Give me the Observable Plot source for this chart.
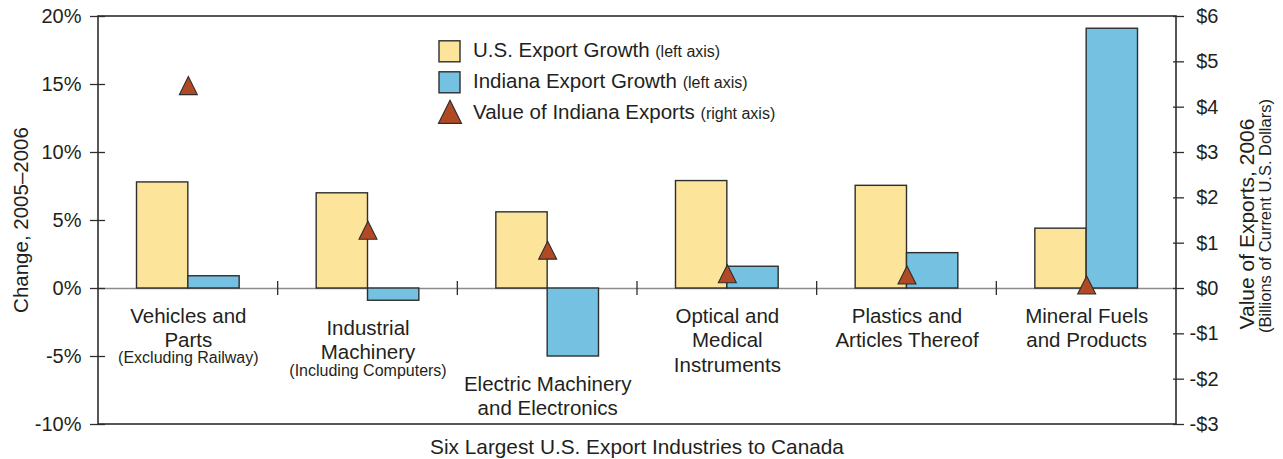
<!DOCTYPE html>
<html>
<head>
<meta charset="utf-8">
<script src="https://cdn.jsdelivr.net/npm/d3@7"></script>
<script src="https://cdn.jsdelivr.net/npm/@observablehq/plot@0.6"></script>
<style>
  html, body { margin: 0; padding: 0; background: #fff; }
  #chart svg { display: block; }
</style>
</head>
<body>
<div id="chart"></div>
<script>
// ---------- data ----------
const categories = [
  "Vehicles and Parts",
  "Industrial Machinery",
  "Electric Machinery and Electronics",
  "Optical and Medical Instruments",
  "Plastics and Articles Thereof",
  "Mineral Fuels and Products"
];
const categoryLabels = [
  "Vehicles and\nParts",
  "Industrial\nMachinery",
  "Electric Machinery\nand Electronics",
  "Optical and\nMedical\nInstruments",
  "Plastics and\nArticles Thereof",
  "Mineral Fuels\nand Products"
];
const categoryNotes = ["(Excluding Railway)", "(Including Computers)", "", "", "", ""];
const seriesNames = ["U.S. Export Growth", "Indiana Export Growth"];
const valueName = "Value of Indiana Exports";
const legendNotes = ["(left axis)", "(left axis)", "(right axis)"];
const usGrowth = [7.8, 7.0, 5.6, 7.9, 7.55, 4.4];            // % change 2005–2006
const indianaGrowth = [0.9, -0.9, -5.0, 1.6, 2.6, 19.1];     // % change 2005–2006
const indianaValue = [4.41, 1.22, 0.78, 0.26, 0.23, 0.01];   // billions of US$, 2006
const leftTicks = [-10, -5, 0, 5, 10, 15, 20];
const rightTicks = [-3, -2, -1, 0, 1, 2, 3, 4, 5, 6];
const leftTitle = "Change, 2005–2006";
const rightTitle = "Value of Exports, 2006";
const rightSubtitle = "(Billions of Current U.S. Dollars)";
const bottomTitle = "Six Largest U.S. Export Industries to Canada";

// ---------- style ----------
const FONT = "'Liberation Sans', Arial, Helvetica, sans-serif";
const INK = "#231f20";
const LINE = "#2e2e2e";
const YELLOW = "#fde49b";
const BLUE = "#74c1e1";
const RUST = "#b14a24";
const W = 1283, H = 459;
const M = {top: 16, right: 107, bottom: 35, left: 98};

// right axis ($) is mapped onto the left (%) scale
const ratio = leftTicks[leftTicks.length - 1] / rightTicks[rightTicks.length - 1];
const dollar = v => { const d = Math.round(v / ratio); return d < 0 ? "-$" + (-d) : "$" + d; };

const barRows = categories.flatMap((c, i) => [
  {cat: c, series: seriesNames[0], value: usGrowth[i]},
  {cat: c, series: seriesNames[1], value: indianaGrowth[i]}
]);
const catRows = categories.map((c, i) => ({
  cat: c,
  label: categoryLabels[i],
  note: categoryNotes[i],
  low: Math.min(0, usGrowth[i], indianaGrowth[i]),
  dollars: indianaValue[i]
}));

// triangle symbol with centroid at the data point
const triangle = {
  draw(ctx, size) {
    const r = Math.sqrt(size / Math.PI);
    const h = 2 * r, w = 2 * r;
    ctx.moveTo(0, -2 * h / 3);
    ctx.lineTo(w / 2, h / 3);
    ctx.lineTo(-w / 2, h / 3);
    ctx.closePath();
  }
};

const plot = Plot.plot({
  width: W, height: H,
  marginTop: M.top, marginRight: M.right, marginBottom: M.bottom, marginLeft: M.left,
  style: {fontFamily: FONT, fontSize: "20px", color: INK, background: "#fff"},
  fx: {domain: categories, padding: 0, round: false, axis: null},
  x: {domain: seriesNames, paddingInner: 0, paddingOuter: 0.75, round: false, axis: null},
  y: {domain: [leftTicks[0], leftTicks[leftTicks.length - 1]], axis: null},
  color: {domain: seriesNames, range: [YELLOW, BLUE]},
  marks: [
    Plot.ruleY([0], {stroke: "#8c8c8c", strokeWidth: 1.6}),
    Plot.barY(barRows, {fx: "cat", x: "series", y: "value", fill: "series", stroke: LINE, strokeWidth: 1.4}),
    Plot.dot(catRows, {fx: "cat", y: d => d.dollars * ratio, symbol: triangle, r: 9, fill: RUST, stroke: LINE, strokeWidth: 1.1}),
    Plot.text(catRows, {fx: "cat", y: "low", text: "label", lineAnchor: "top", dy: 17, fontSize: 20.5, lineHeight: 1.19, fill: INK}),
    Plot.text(catRows.filter(d => d.note), {fx: "cat", y: "low", text: "note", lineAnchor: "top", dy: 63.5, fontSize: 16, fill: INK}),
    Plot.axisY({anchor: "left", ticks: leftTicks, tickFormat: d => d + "%", tickSize: 8, tickPadding: 9, fontSize: 20, stroke: LINE, strokeWidth: 1.3, fill: INK, label: null}),
    Plot.axisY({anchor: "left", ticks: leftTicks, tickSize: -7, tickFormat: () => "", stroke: LINE, strokeWidth: 1.3, label: null}),
    Plot.axisY({anchor: "right", ticks: rightTicks.map(d => d * ratio), tickFormat: dollar, tickSize: 7, tickPadding: 35, textAnchor: "end", fontSize: 20, stroke: LINE, strokeWidth: 1.3, fill: INK, label: null}),
    Plot.axisY({anchor: "right", ticks: rightTicks.map(d => d * ratio), tickSize: -4, tickFormat: () => "", stroke: LINE, strokeWidth: 1.3, label: null})
  ]
});

document.getElementById("chart").appendChild(plot);

// ---------- decorations drawn with the plot's own scales ----------
const svg = d3.select(plot);
const fx = plot.scale("fx");
const ys = plot.scale("y");
const y0 = ys.apply(0);

// frame
svg.append("rect")
  .attr("x", M.left).attr("y", M.top)
  .attr("width", W - M.left - M.right).attr("height", H - M.top - M.bottom)
  .attr("fill", "none").attr("stroke", LINE).attr("stroke-width", 1.6);

// category separators on the zero line
categories.slice(1).forEach(c => {
  const x = fx.apply(c);
  svg.append("line").attr("x1", x).attr("x2", x).attr("y1", y0 - 7).attr("y2", y0 + 7)
    .attr("stroke", LINE).attr("stroke-width", 1.3);
});

// axis titles
const cy = (M.top + H - M.bottom) / 2;
svg.append("text").attr("transform", `translate(28,${cy}) rotate(-90)`)
  .attr("text-anchor", "middle").attr("font-size", 20.5).attr("fill", INK).text(leftTitle);
svg.append("text").attr("transform", `translate(1254,${cy + 4}) rotate(-90)`)
  .attr("text-anchor", "middle").attr("font-size", 21).attr("fill", INK).text(rightTitle);
svg.append("text").attr("transform", `translate(1271,${cy - 4}) rotate(-90)`)
  .attr("text-anchor", "middle").attr("font-size", 16.5).attr("fill", INK).text(rightSubtitle);
svg.append("text").attr("x", (M.left + W - M.right) / 2).attr("y", 454)
  .attr("text-anchor", "middle").attr("font-size", 20.8).attr("fill", INK).text(bottomTitle);

// legend
const legend = svg.append("g").attr("font-size", 20.5).attr("fill", INK).attr("text-anchor", "start");
const legendNames = [...seriesNames, valueName];
const legendFills = [YELLOW, BLUE, RUST];
legendNames.forEach((name, i) => {
  const base = 57.3 + i * 31;
  const cyRow = base - 6;
  if (i < 2) {
    legend.append("rect").attr("x", 439).attr("y", cyRow - 10.5).attr("width", 21).attr("height", 21)
      .attr("fill", legendFills[i]).attr("stroke", LINE).attr("stroke-width", 1.4);
  } else {
    const cx = 450, top = cyRow - 13, bot = cyRow + 10;
    legend.append("path").attr("d", `M${cx},${top}L${cx + 11.5},${bot}L${cx - 11.5},${bot}Z`)
      .attr("fill", legendFills[i]).attr("stroke", LINE).attr("stroke-width", 1.2);
  }
  const t = legend.append("text").attr("x", 473).attr("y", base).attr("text-anchor", "start");
  t.append("tspan").text(name + " ");
  t.append("tspan").attr("font-size", 16).text(legendNotes[i]);
});
</script>
</body>
</html>
